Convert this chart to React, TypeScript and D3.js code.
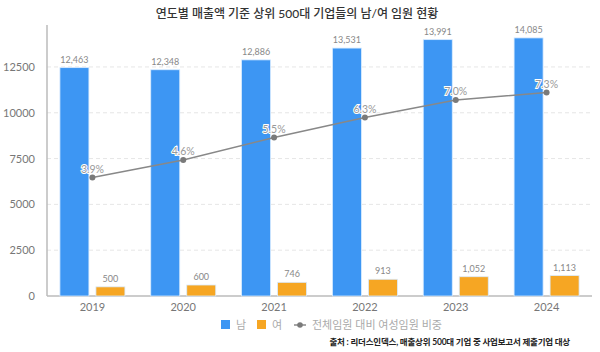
import * as d3 from "d3";
import { useEffect, useRef } from "react";

const years = ["2019", "2020", "2021", "2022", "2023", "2024"];
const male = [12463, 12348, 12886, 13531, 13991, 14085];
const female = [500, 600, 746, 913, 1052, 1113];
const ratio = [3.9, 4.6, 5.5, 6.3, 7.0, 7.3];
const yTicks = [0, 2500, 5000, 7500, 10000, 12500];

const title = "연도별 매출액 기준 상위 500대 기업들의 남/여 임원 현황";
const source = "출처 : 리더스인덱스, 매출상위 500대 기업 중 사업보고서 제출기업 대상";
const legendNames = ["남", "여", "전체임원 대비 여성임원 비중"];

export default function App() {
  const ref = useRef<SVGSVGElement | null>(null);

  useEffect(() => {
    document.body.style.margin = "0";
    const width = 600;
    const height = 352;
    const svg = d3.select(ref.current);
    svg.selectAll("*").remove();
    svg.attr("width", width).attr("height", height);

    const font = "Lato, 'Noto Sans CJK KR', sans-serif";
    const left = 47;
    const right = 592;
    const top = 25;
    const bottom = 296;

    const x = d3.scaleBand().domain(years).range([left, right]);
    const y = d3.scaleLinear().domain([0, 14790]).range([bottom, top]);
    const y2 = d3.scaleLinear().domain([0, 10]).range([275, 25]);

    const blue = "#3d96f3";
    const orange = "#f6a623";
    const barW = 29;
    const gap = 7;

    // title
    svg
      .append("text")
      .attr("x", 297)
      .attr("y", 18)
      .attr("text-anchor", "middle")
      .attr("font-family", font)
      .attr("font-size", 12)
      .attr("font-weight", 500)
      .attr("fill", "#333")
      .text(title);

    // grid
    svg
      .append("g")
      .selectAll("line")
      .data(yTicks.filter((t) => t > 0))
      .enter()
      .append("line")
      .attr("x1", left)
      .attr("x2", right)
      .attr("y1", (d) => y(d))
      .attr("y2", (d) => y(d))
      .attr("stroke", "#e6e6e6")
      .attr("stroke-dasharray", "4,3");

    // y tick labels
    svg
      .append("g")
      .selectAll("text")
      .data(yTicks)
      .enter()
      .append("text")
      .attr("x", 35)
      .attr("y", (d) => y(d) + 4)
      .attr("text-anchor", "end")
      .attr("font-family", font)
      .attr("font-size", 11)
      .attr("fill", "#777")
      .text((d) => String(d));

    // axes lines
    svg
      .append("line")
      .attr("x1", left)
      .attr("x2", left)
      .attr("y1", top)
      .attr("y2", bottom)
      .attr("stroke", "#bbb")
      .attr("stroke-width", 1.5);
    svg
      .append("line")
      .attr("x1", left)
      .attr("x2", right)
      .attr("y1", bottom)
      .attr("y2", bottom)
      .attr("stroke", "#bbb")
      .attr("stroke-width", 1.5);

    const cx = (d: string) => (x(d) as number) + x.bandwidth() / 2;

    // bars
    const groups = [
      { values: male, color: blue, offset: -gap / 2 - barW },
      { values: female, color: orange, offset: gap / 2 },
    ];
    groups.forEach((g) => {
      svg
        .append("g")
        .selectAll("rect")
        .data(years)
        .enter()
        .append("rect")
        .attr("x", (d) => cx(d) + g.offset)
        .attr("y", (d, i) => y(g.values[i]))
        .attr("width", barW)
        .attr("height", (d, i) => bottom - y(g.values[i]))
        .attr("fill", g.color)
        .attr("stroke", "#d8ebff")
        .attr("stroke-width", 0.8);
      svg
        .append("g")
        .selectAll("text")
        .data(years)
        .enter()
        .append("text")
        .attr("x", (d) => cx(d) + g.offset + barW / 2)
        .attr("y", (d, i) => y(g.values[i]) - 5)
        .attr("text-anchor", "middle")
        .attr("font-family", font)
        .attr("font-size", 9)
        .attr("fill", "#888")
        .text((d, i) => d3.format(",")(g.values[i]));
    });

    // x labels
    svg
      .append("g")
      .selectAll("text")
      .data(years)
      .enter()
      .append("text")
      .attr("x", (d) => cx(d))
      .attr("y", 311)
      .attr("text-anchor", "middle")
      .attr("font-family", font)
      .attr("font-size", 11)
      .attr("fill", "#777")
      .text((d) => d);

    // line
    const line = d3
      .line<number>()
      .x((d, i) => cx(years[i]))
      .y((d) => y2(d));
    svg
      .append("path")
      .attr("d", line(ratio))
      .attr("fill", "none")
      .attr("stroke", "#888")
      .attr("stroke-width", 1.5);
    svg
      .append("g")
      .selectAll("circle")
      .data(ratio)
      .enter()
      .append("circle")
      .attr("cx", (d, i) => cx(years[i]))
      .attr("cy", (d) => y2(d))
      .attr("r", 3)
      .attr("fill", "#7a7a7a");
    svg
      .append("g")
      .selectAll("text")
      .data(ratio)
      .enter()
      .append("text")
      .attr("x", (d, i) => cx(years[i]))
      .attr("y", (d) => y2(d) - 5)
      .attr("text-anchor", "middle")
      .attr("font-family", font)
      .attr("font-size", 10.5)
      .attr("fill", "#999")
      .attr("stroke", "#fff")
      .attr("stroke-width", 2)
      .attr("paint-order", "stroke")
      .text((d) => d.toFixed(1) + "%");

    // legend
    const lg = svg.append("g").attr("font-family", font).attr("font-size", 11).attr("fill", "#aaa");
    lg.append("rect").attr("x", 221).attr("y", 320).attr("width", 9).attr("height", 9).attr("fill", blue);
    lg.append("text").attr("x", 236).attr("y", 329).text(legendNames[0]);
    lg.append("rect").attr("x", 257).attr("y", 320).attr("width", 9).attr("height", 9).attr("fill", orange);
    lg.append("text").attr("x", 272).attr("y", 329).text(legendNames[1]);
    lg.append("line")
      .attr("x1", 294)
      .attr("x2", 306)
      .attr("y1", 325)
      .attr("y2", 325)
      .attr("stroke", "#888")
      .attr("stroke-width", 1.5);
    lg.append("circle").attr("cx", 300).attr("cy", 325).attr("r", 2.8).attr("fill", "#7a7a7a");
    lg.append("text").attr("x", 312).attr("y", 329).text(legendNames[2]);

    // source
    svg
      .append("text")
      .attr("x", 570)
      .attr("y", 345)
      .attr("text-anchor", "end")
      .attr("font-family", font)
      .attr("font-size", 8.5)
      .attr("letter-spacing", -0.2)
      .attr("font-weight", 700)
      .attr("fill", "#222")
      .text(source);
  }, []);

  return <svg ref={ref} style={{ display: "block" }} />;
}
